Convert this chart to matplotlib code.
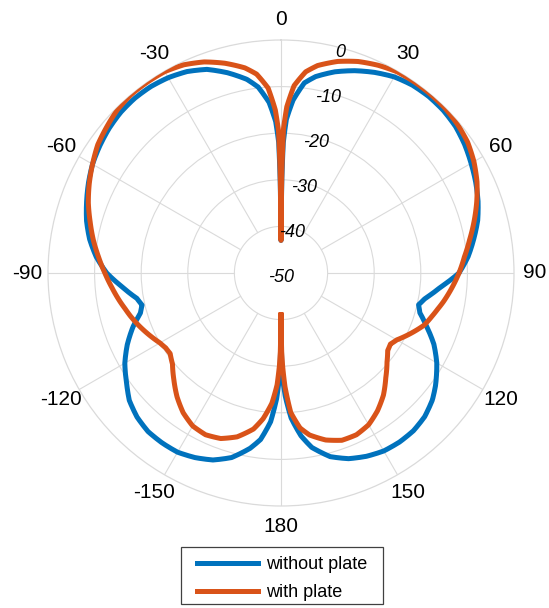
import matplotlib.pyplot as plt
from matplotlib.patches import Rectangle
import numpy as np

plt.rcParams['font.family'] = ['Liberation Sans', 'DejaVu Sans']

# angles (deg) for one half of the pattern, 0 = front, 180 = back
half_angles = [0, 0.5, 1, 2, 4, 7, 10, 15, 20, 25, 30, 35, 40, 45, 50, 55, 60, 65,
               70, 75, 80, 85, 90, 95, 100, 103, 106, 110, 115, 120, 123, 126, 130,
               135, 140, 145, 150, 155, 160, 165, 170, 173, 176, 178, 179, 179.5, 180]

# response in dB, right half (0..180) and left half (-0.5..-180)
without_right = [-43, -30, -22, -17, -12.8, -8.9, -7.2, -5.3, -3.8, -2.5, -1.4, -0.8,
                 -0.6, -0.7, -1.1, -1.9, -2.9, -3.9, -5.0, -6.3, -8.0, -9.7, -11.8,
                 -15.6, -18.6, -19.7, -19.0, -16.8, -13.8, -11.4, -10.2, -9.0, -7.6,
                 -6.4, -5.8, -5.7, -5.9, -6.6, -7.6, -9.2, -12, -14.8, -18.8, -23.5,
                 -27, -30, -40]
without_left = [-30, -22, -17.5, -13.3, -9.8, -7.8, -5.5, -3.5, -2.3, -1.6, -1.2, -1.1,
                -1.3, -1.8, -2.5, -3.3, -4.4, -5.6, -6.8, -8.3, -10.2, -12.6, -15.8,
                -18.6, -19.4, -18.6, -16.2, -13.6, -11.3, -10.2, -9.1, -7.5, -6.3,
                -5.6, -5.5, -5.6, -6.3, -7.3, -9.0, -11.8, -14, -18, -23, -27, -30, -40]
with_right = [-43, -28, -19, -14.3, -9.7, -6.5, -4.8, -3.0, -1.7, -0.8, -0.15, 0, 0,
              -0.1, -0.5, -1.1, -2.2, -3.6, -5.3, -7.1, -8.9, -10.5, -11.8, -13.2,
              -14.6, -15.5, -16.3, -17.3, -19.3, -21.3, -22, -21.7, -20.3, -18.2,
              -15.8, -13.9, -12.4, -11.7, -11.8, -12.9, -14.7, -16.5, -20, -25.6,
              -30, -33, -41]
with_left = [-28, -19.5, -15, -10.2, -7, -5.3, -3.4, -1.8, -0.7, -0.1, 0, 0, -0.4,
             -1.2, -2.0, -3.3, -4.6, -6.0, -7.6, -9.1, -10.7, -12.2, -13.6, -14.9,
             -15.7, -16.4, -17.4, -18.7, -20, -20.5, -20.6, -19.6, -17.5, -15.3,
             -13.4, -12.1, -11.7, -12.2, -13.6, -16, -18.5, -22, -26, -30, -33, -41]

theta_labels = ['0', '30', '60', '90', '120', '150', '180',
                '-150', '-120', '-90', '-60', '-30']
r_ticks = [-50, -40, -30, -20, -10, 0]

# full sweep from -180 to 180
half = np.array(half_angles)
theta = np.deg2rad(np.concatenate([-half[1:][::-1], half]))
r_without = np.concatenate([np.array(without_left)[::-1], without_right])
r_with = np.concatenate([np.array(with_left)[::-1], with_right])

grid_col = '#dadada'
W, H = 549, 608
fig = plt.figure(figsize=(W / 100, H / 100), dpi=100)
ax = fig.add_axes([48 / W, 102 / H, 466 / W, 466 / H], projection='polar')
ax.set_theta_zero_location('N')
ax.set_theta_direction(-1)
ax.set_ylim(-50, 0)

ax.set_xticks(np.deg2rad(np.arange(0, 360, 30)))
ax.set_xticklabels(theta_labels, fontsize=15)
ax.tick_params(axis='x', pad=4.5)
ax.xaxis.grid(False)

ax.set_yticks(r_ticks[1:-1])
ax.set_yticklabels([])
ax.yaxis.grid(True, color=grid_col, linewidth=0.8)
ax.spines['polar'].set_color(grid_col)
ax.spines['polar'].set_linewidth(0.9)

# spokes start at the innermost ring
for a in np.arange(0, 360, 30):
    ax.plot([np.deg2rad(a)] * 2, [r_ticks[1], r_ticks[-1]], color=grid_col,
            linewidth=0.8, zorder=1)

# radial tick labels along a 15 degree line
for rv in r_ticks[1:]:
    ax.text(np.deg2rad(15), rv - 1.1, str(rv), fontsize=13, style='italic',
            ha='center', va='center', zorder=4)
ax.text(np.pi, -49.1, str(r_ticks[0]), fontsize=13, style='italic',
        ha='center', va='center', zorder=4)

l1, = ax.plot(theta, r_without, color='#0072BD', linewidth=3.6,
              label='without plate', zorder=3)
l2, = ax.plot(theta, r_with, color='#D95319', linewidth=3.6,
              label='with plate', zorder=3)
# follow the polar grid between samples instead of straight chords
for ln in (l1, l2):
    ln.get_path()._interpolation_steps = 24

fig.patches.append(Rectangle((181 / W, 1 - 604 / H), 202 / W, 57 / H,
                             transform=fig.transFigure, facecolor='white',
                             edgecolor='#404040', linewidth=0.9, zorder=0))
fig.legend(loc='upper left', bbox_to_anchor=(197 / W, 1 - 556 / H), fontsize=13,
           frameon=False, handlelength=3.4, handletextpad=0.4,
           labelspacing=0.6, borderpad=0, borderaxespad=0)

fig.savefig('out.png', dpi=100)
